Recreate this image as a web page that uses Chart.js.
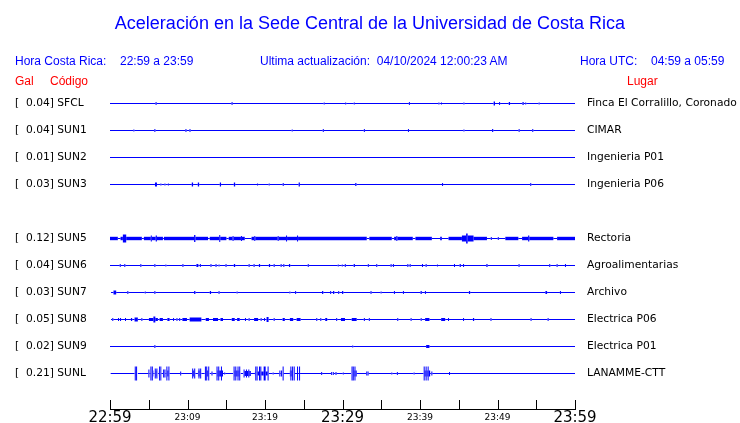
<!DOCTYPE html>
<html>
<head>
<meta charset="utf-8">
<script src="https://cdn.jsdelivr.net/npm/chart.js@4.4.1/dist/chart.umd.min.js"></script>
<style>
  body { margin: 0; background: #fff; }
  #wrap { position: relative; width: 740px; height: 423px; overflow: hidden; }
  #wrap canvas { position: absolute; left: 0; top: 0; }
  .t { position: absolute; font-family: 'Liberation Sans', Arial, sans-serif; line-height: 1; white-space: pre; }
  .blue { color: #0000ff; }
  .red { color: #ff0000; }
</style>
</head>
<body>
<div id="wrap">
  <canvas id="seis" width="740" height="423"></canvas>
  <div class="t blue" style="left:0;width:740px;text-align:center;top:14px;font-size:18px">Aceleración en la Sede Central de la Universidad de Costa Rica</div>
  <div class="t blue" style="left:15px;top:55px;font-size:12px">Hora Costa Rica:</div>
  <div class="t blue" style="left:120px;top:55px;font-size:12px">22:59 a 23:59</div>
  <div class="t blue" style="left:260px;top:55px;font-size:12px">Ultima actualización:  04/10/2024 12:00:23 AM</div>
  <div class="t blue" style="left:580px;top:55px;font-size:12px">Hora UTC:</div>
  <div class="t blue" style="left:651px;top:55px;font-size:12px">04:59 a 05:59</div>
  <div class="t red" style="left:15px;top:75px;font-size:12px">Gal</div>
  <div class="t red" style="left:50px;top:75px;font-size:12px">Código</div>
  <div class="t red" style="left:627px;top:75px;font-size:12px">Lugar</div>
</div>
<script>
// rows top to bottom; null = empty slot (no SUN4 station)
const rowOrder = ['SFCL', 'SUN1', 'SUN2', 'SUN3', null, 'SUN5', 'SUN6', 'SUN7', 'SUN8', 'SUN9', 'SUNL'];
const peakGal = { SFCL: 0.04, SUN1: 0.04, SUN2: 0.01, SUN3: 0.03, SUN5: 0.12, SUN6: 0.04, SUN7: 0.03, SUN8: 0.05, SUN9: 0.02, SUNL: 0.21 };
const places = {
    SFCL: 'Finca El Corralillo, Coronado', SUN1: 'CIMAR', SUN2: 'Ingenieria P01', SUN3: 'Ingenieria P06',
    SUN5: 'Rectoria', SUN6: 'Agroalimentarias', SUN7: 'Archivo', SUN8: 'Electrica P06', SUN9: 'Electrica P01', SUNL: 'LANAMME-CTT'
};

// x axis: minutes after 22:59, ticks every 5 min
const timeTicks = ['22:59', '', '23:09', '', '23:19', '', '23:29', '', '23:39', '', '23:49', '', '23:59'];
const majorTicks = ['22:59', '23:29', '23:59'];

// events per station: [start min, end min (null = single spike), half amplitude in trace units]
const sfcl = [[5.88, 6.01, 1.5], [15.75, null, 1.5], [27.64, null, 1], [30.41, null, 1], [31.52, null, 1], [38.63, null, 1.5],
    [42.44, null, 1], [42.77, null, 1], [45.67, null, 1], [49.50, 49.68, 2], [50.27, null, 1.5], [51.45, 51.62, 1.5],
    [53.22, 53.38, 1.5], [53.64, null, 1], [55.37, null, 1]];
const sun1 = [[3.08, null, 1], [5.79, null, 1.5], [9.80, null, 1.5], [10.32, null, 1.5], [23.51, null, 1], [27.52, null, 1.5],
    [32.82, null, 1.5], [38.51, null, 1.5], [45.67, null, 1], [49.30, 49.45, 1.5], [52.79, null, 1.5], [54.55, null, 1.5]];
const sun2 = [];
const sun3 = [[5.80, 6.06, 2], [6.57, null, 1], [7.09, null, 1], [7.53, null, 1], [10.55, 10.72, 2], [11.33, 11.50, 2],
    [14.17, 14.33, 2], [15.98, 16.15, 2], [19.04, null, 1], [20.54, null, 1], [22.35, null, 1.5], [24.34, 24.50, 2],
    [31.64, 31.80, 1.5], [42.91, null, 1.5], [54.29, null, 1.5]];
const sun5 = [[0, 1.01, 1.7], [1.36, 4.11, 1.7], [4.37, 6.83, 1.7], [6.96, 12.65, 1.7], [12.87, 15.02, 1.7], [15.32, 17.39, 1.7],
    [18.26, 33.13, 1.7], [33.46, 36.36, 1.7], [36.66, 39.07, 1.7], [39.41, 41.53, 1.7], [42.60, 42.82, 1.7], [43.68, 48.64, 1.7],
    [51.01, 52.69, 1.7], [53.17, 57.21, 1.7], [57.69, 60, 1.7],
    [1.66, 2.09, 4], [5.33, null, 3], [5.90, 6.05, 3], [10.85, 11.02, 3.5], [14.16, null, 3.5], [15.88, null, 2.5],
    [16.96, null, 2.5], [18.68, null, 2.5], [21.70, null, 2.5], [22.78, null, 3], [24.20, null, 3], [37.01, null, 2.5],
    [45.41, 46.91, 3], [45.95, 46.15, 5], [49.20, null, 1.5], [50.10, null, 1.5], [53.95, 54.10, 3]];
const sun6 = [[1.32, null, 1.5], [1.91, null, 1.5], [3.98, null, 1.5], [5.79, null, 1.5], [7.21, null, 1], [9.41, null, 1.5],
    [11.15, 11.40, 1.5], [11.66, null, 1.5], [13.03, null, 1.5], [13.68, null, 1.5], [14.07, null, 1], [14.97, null, 1.5],
    [15.98, 16.15, 1.5], [17.95, null, 1.5], [18.59, null, 1.5], [19.21, 19.37, 1.5], [20.50, 20.66, 1.5], [21.18, null, 1.5],
    [22.08, null, 1.5], [22.43, null, 1.5], [23.09, 23.25, 1.5], [25.58, null, 1.5], [29.45, null, 1], [29.97, null, 1],
    [30.36, null, 1.5], [31.44, 31.60, 1.5], [33.33, null, 1.5], [34.42, null, 1.5], [36.27, null, 1.5], [36.57, null, 1.5],
    [38.43, null, 1.5], [38.73, null, 1.5], [40.32, null, 1.5], [40.79, null, 1.5], [42.25, null, 1], [44.45, null, 1.5],
    [45.11, 45.27, 1.5], [45.62, null, 1.5], [48.56, 48.72, 1.5], [52.78, null, 1.5], [56.74, null, 1.5], [57.69, null, 1.5],
    [58.77, null, 1.5]];
const sun7 = [[0.06, null, 1], [0.45, 0.80, 2], [2.30, null, 1.5], [4.55, null, 1], [5.79, null, 1.5], [10.85, 11.02, 1.5],
    [12.88, 13.04, 1.5], [14.07, null, 1.5], [16.40, null, 1], [23.21, null, 1], [23.95, null, 1.5], [27.36, 27.52, 1.5],
    [28.47, null, 1.5], [28.78, 28.94, 1.5], [29.51, null, 1.5], [29.94, 30.10, 1.5], [33.68, null, 1.5], [34.98, null, 1],
    [36.70, null, 1.5], [37.86, null, 1.5], [40.07, 40.23, 1.5], [40.70, null, 1.5], [46.31, 46.47, 1.5], [56.18, 56.40, 1.5],
    [58.12, null, 1.5]];
const sun8 = [[0.06, null, 1.5], [0.36, null, 1.5], [1.10, null, 1.5], [1.36, null, 1.5], [2.00, null, 1.5], [2.70, 2.86, 1.5],
    [3.17, 3.59, 2], [4.11, null, 1.5], [5.02, 6.18, 1.5], [5.60, 5.85, 3], [6.40, 6.83, 1.5], [7.40, 7.69, 1.5], [8.20, null, 1.5],
    [8.64, null, 1.5], [8.99, null, 1.5], [9.34, 9.93, 1.5], [10.28, 11.79, 2], [12.35, 12.77, 1.5], [13.29, 13.94, 1.5],
    [14.25, 14.58, 1.5], [15.71, 16.10, 1.5], [16.40, 16.74, 1.5], [17.48, null, 1.5], [17.95, null, 1.5], [18.59, 19.11, 1.5],
    [19.50, null, 1.5], [19.94, null, 1.5], [20.20, 20.46, 2.5], [21.18, null, 1.5], [22.27, 22.56, 1.5], [23.21, 23.64, 1.5],
    [24.08, 24.59, 1.5], [26.68, null, 1.5], [27.20, null, 1.5], [27.77, 28.03, 1.5], [29.25, null, 1.5], [29.80, 30.32, 1.5],
    [31.19, 31.83, 1.5], [32.82, null, 1.5], [33.46, null, 1.5], [37.13, null, 1.5], [38.85, null, 1.5], [40.15, null, 1.5],
    [40.66, 41.22, 1.5], [42.73, 43.25, 1.5], [43.68, null, 1.5], [45.62, null, 1.5], [46.83, 46.99, 1.5], [49.16, null, 1.5],
    [54.33, null, 1.5], [56.53, null, 1.5]];
const sun9 = [[5.79, null, 1.5], [31.32, null, 1], [40.79, 41.22, 1.5]];
const sunl = [[0.02, null, 3],
    [3.17, 3.59, 3], [3.26, null, 7], [3.43, null, 7], [5.02, null, 4],
    [5.24, 5.59, 3], [5.28, null, 7], [5.46, null, 7], [5.75, 6.18, 3], [5.84, null, 5], [6.05, null, 5],
    [6.31, 6.62, 3], [6.40, null, 7], [6.57, null, 7], [6.92, null, 4], [7.09, null, 4],
    [7.27, 7.69, 3], [7.34, null, 7], [7.60, null, 7], [9.12, null, 2],
    [10.58, 11.02, 3], [10.67, null, 5], [10.93, null, 5], [11.35, 11.79, 3], [11.48, null, 5], [11.70, null, 5],
    [12.22, 12.87, 3], [12.31, null, 7], [12.48, null, 7], [12.74, null, 7], [13.16, null, 2],
    [13.73, 14.58, 3], [13.81, null, 7], [14.03, null, 7], [14.38, null, 7], [14.80, null, 1],
    [15.88, 16.87, 3], [16.01, null, 7], [16.23, null, 7], [16.52, null, 7], [16.74, null, 7],
    [17.17, 18.17, 2.5], [17.30, null, 4], [17.61, null, 4], [17.91, null, 4],
    [18.70, 20.50, 2], [18.81, null, 7], [18.98, null, 7], [19.29, null, 7], [19.46, null, 7], [19.89, null, 7], [20.02, null, 7],
    [20.40, null, 7], [21.05, null, 1], [21.92, null, 3], [22.14, null, 3], [22.34, null, 7],
    [23.21, 23.86, 3], [23.34, null, 7], [23.56, null, 7], [23.77, null, 7], [24.20, null, 7], [24.46, null, 7],
    [27.31, null, 1.5], [28.60, null, 1.5], [28.81, null, 1.5], [29.16, null, 1.5], [30.10, null, 1],
    [31.10, 31.83, 3], [31.23, null, 7], [31.39, null, 7], [31.61, null, 7], [33.13, null, 2], [33.30, null, 2],
    [36.36, null, 1], [37.08, null, 1.5], [39.24, null, 1],
    [40.45, 41.31, 3], [40.54, null, 7], [40.79, null, 7], [41.05, null, 7], [41.53, null, 2], [43.81, null, 1.5]];

const traces = { SFCL: sfcl, SUN1: sun1, SUN2: sun2, SUN3: sun3, SUN5: sun5, SUN6: sun6, SUN7: sun7, SUN8: sun8, SUN9: sun9, SUNL: sunl };

const SPAN = 60;          // minutes shown
const SPIKE = 0.065;      // half width of a single spike, minutes
const GAIN = 27;          // trace units per row

// turn events into baseline points; each point carries the amplitude of the segment that starts at it
function buildTrace(events, row) {
    const iv = events.map(([s, e, a]) => e == null ? [s - SPIKE, s + SPIKE, a] : [s, e, a]);
    const cuts = new Set([0, SPAN]);
    iv.forEach(([s, e]) => { cuts.add(Math.max(0, s)); cuts.add(Math.min(SPAN, e)); });
    const xs = [...cuts].sort((a, b) => a - b);
    return xs.map((x, i) => {
        const next = i < xs.length - 1 ? xs[i + 1] : x;
        const mid = (x + next) / 2;
        let a = 0;
        iv.forEach(([s, e, amp]) => { if (mid >= s && mid <= e && amp > a) a = amp; });
        return { x: x, y: row, a: a };
    });
}

function segWidth(ctx) {
    const pt = ctx.chart.data.datasets[ctx.datasetIndex].data[ctx.p0DataIndex];
    const y = ctx.chart.scales.y;
    const k = Math.abs(y.getPixelForValue(1) - y.getPixelForValue(0)) / GAIN;
    return Math.max(1, 2 * pt.a * k);
}

const datasets = [];
rowOrder.forEach((code, row) => {
    if (!code) return;
    datasets.push({
        label: code,
        data: buildTrace(traces[code], row),
        borderColor: '#0000ff',
        borderWidth: 1,
        borderCapStyle: 'butt',
        pointRadius: 0,
        tension: 0,
        clip: false,
        segment: { borderWidth: segWidth }
    });
});

function rowTicks(scale) {
    scale.ticks = rowOrder.map((c, i) => c ? { value: i } : null).filter(Boolean);
}

// label boxes must not push the plot area around
function fixWidth(w) {
    return s => {
        s.width = w;
        s.paddingTop = 0;
        s.paddingBottom = 0;
    };
}

// tick marks stand on top of the time axis
const upTicks = {
    id: 'upTicks',
    afterDraw(chart) {
        const { ctx, chartArea, scales: { x } } = chart;
        ctx.save();
        ctx.strokeStyle = '#000';
        ctx.lineWidth = 1;
        x.ticks.forEach(t => {
            const px = Math.round(x.getPixelForValue(t.value)) + 0.5;
            ctx.beginPath();
            ctx.moveTo(px, chartArea.bottom - 9);
            ctx.lineTo(px, chartArea.bottom);
            ctx.stroke();
        });
        ctx.restore();
    }
};

const rowMin = -0.5;
const rowMax = rowMin + 319 / 27;
const labelFont = { family: 'DejaVu Sans', size: 10.7 };

new Chart(document.getElementById('seis'), {
    type: 'line',
    data: { datasets: datasets },
    options: {
        responsive: false,
        animation: false,
        events: [],
        layout: { padding: { top: 90, left: 15, right: 0, bottom: 0 } },
        plugins: { legend: { display: false }, tooltip: { enabled: false } },
        scales: {
            x: {
                type: 'linear', position: 'bottom', min: 0, max: SPAN,
                grid: { display: false, drawTicks: false },
                border: { display: true, color: '#000', width: 1 },
                ticks: {
                    stepSize: 5, autoSkip: false, maxRotation: 0, padding: 0, color: '#000',
                    font: c => majorTicks.includes(timeTicks[c.index])
                        ? { family: 'DejaVu Sans', size: 15, lineHeight: 1.2 }
                        : { family: 'DejaVu Sans', size: 9, lineHeight: 1.85 },
                    callback: (v, i) => timeTicks[i]
                },
                afterFit: s => { s.height = 14; }
            },
            y: {
                type: 'linear', position: 'left', reverse: true, min: rowMin, max: rowMax,
                grid: { display: false, drawTicks: false }, border: { display: false },
                afterBuildTicks: rowTicks,
                ticks: {
                    autoSkip: false, crossAlign: 'far', color: '#000', font: labelFont,
                    callback: v => {
                        const c = rowOrder[v];
                        return c ? '[  ' + peakGal[c].toFixed(2) + '] ' + c : '';
                    }
                },
                afterFit: fixWidth(95)
            },
            y2: {
                type: 'linear', position: 'right', reverse: true, min: rowMin, max: rowMax,
                grid: { display: false, drawTicks: false }, border: { display: false },
                afterBuildTicks: rowTicks,
                ticks: {
                    autoSkip: false, crossAlign: 'near', padding: 12, color: '#000', font: labelFont,
                    callback: v => rowOrder[v] ? places[rowOrder[v]] : ''
                },
                afterFit: fixWidth(165)
            }
        }
    },
    plugins: [upTicks]
});
</script>
</body>
</html>
